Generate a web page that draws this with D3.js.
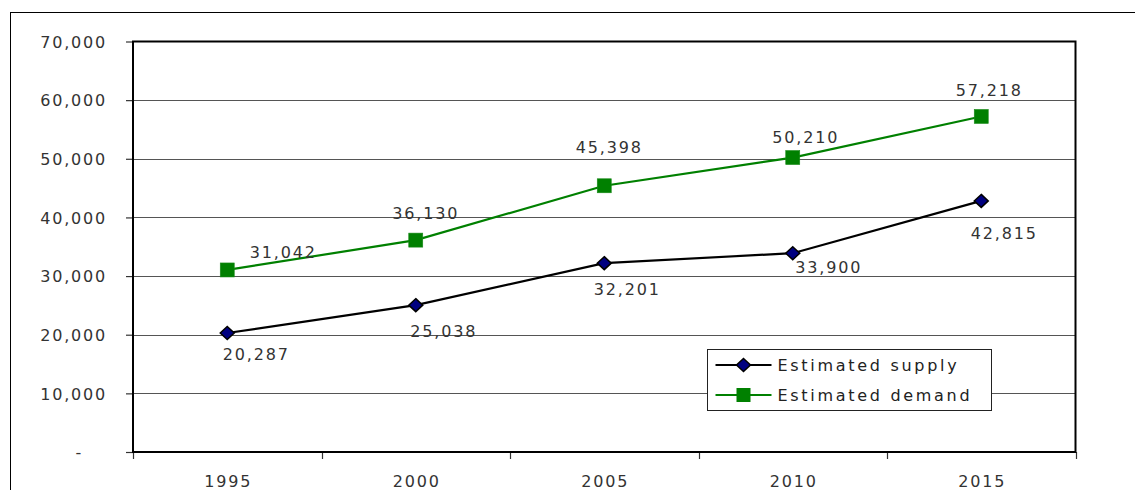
<!DOCTYPE html>
<html>
<head>
<meta charset="utf-8">
<script src="https://cdn.jsdelivr.net/npm/d3@7/dist/d3.min.js"></script>
<style>
  html, body { margin: 0; padding: 0; background: #fff; }
  svg text { font-family: "DejaVu Sans", sans-serif; font-size: 16px; fill: #333; letter-spacing: 1.8px; }
  svg text.legend-label { letter-spacing: 2.7px; fill: #222; }
</style>
</head>
<body>
<svg id="chart" width="1135" height="490"></svg>
<script>
// Chart data
const years = ["1995", "2000", "2005", "2010", "2015"];
const supply = [20287, 25038, 32201, 33900, 42815];
const demand = [31042, 36130, 45398, 50210, 57218];
const yTicks = [0, 10000, 20000, 30000, 40000, 50000, 60000, 70000];
const seriesNames = ["Estimated supply", "Estimated demand"];

// Hand-placed data label nudges (dx, dy) relative to each point
const supplyLabelNudge = [[28, 27], [27, 32], [22, 32], [35, 20], [22, 38]];
const demandLabelNudge = [[55, -12], [9, -21], [4, -33], [12, -15], [7, -20]];

const svg = d3.select("#chart");
const plot = { left: 133, top: 41.5, right: 1075.5, bottom: 452 };

const x = d3.scaleBand().domain(years).range([plot.left, plot.right]);
const y = d3.scaleLinear().domain([0, 70000]).range([plot.bottom, plot.top]);
const fmt = d3.format(",");

// Outer chart frame (runs off the right and bottom edges)
svg.append("rect")
  .attr("x", 10.5).attr("y", 12.5).attr("width", 1300).attr("height", 600)
  .attr("fill", "none").attr("stroke", "#000").attr("stroke-width", 1);

// Horizontal gridlines
svg.append("g").selectAll("line")
  .data(yTicks.filter(d => d > 0 && d < 70000))
  .join("line")
  .attr("x1", plot.left).attr("x2", plot.right)
  .attr("y1", d => Math.round(y(d)) + 0.5).attr("y2", d => Math.round(y(d)) + 0.5)
  .attr("stroke", "#555").attr("stroke-width", 1.2);

// Y axis with ticks and labels
const yAxis = d3.axisLeft(y).tickValues(yTicks).tickSize(7).tickPadding(19)
  .tickFormat(d => d === 0 ? "-" : fmt(d));
const yg = svg.append("g").attr("transform", `translate(${plot.left},0)`).call(yAxis);
yg.select(".domain").remove();
yg.selectAll(".tick line").attr("stroke", "#333").attr("stroke-width", 1.2);
yg.selectAll(".tick text").attr("font-size", null).attr("font-family", null).attr("fill", null)
  .attr("dy", "0.36em");
yg.selectAll(".tick text").filter(d => d === 0).attr("x", -50);

// X axis: ticks fall on category boundaries
const boundaries = years.map(d => x(d)).concat([plot.right]);
svg.append("g").selectAll("line").data(boundaries).join("line")
  .attr("x1", d => Math.round(d) + 0.5).attr("x2", d => Math.round(d) + 0.5)
  .attr("y1", plot.bottom).attr("y2", plot.bottom + 7)
  .attr("stroke", "#333").attr("stroke-width", 1.2);
svg.append("g").selectAll("text").data(years).join("text")
  .attr("x", d => x(d) + x.bandwidth() / 2 + 1)
  .attr("y", 487)
  .attr("text-anchor", "middle")
  .text(d => d);

// Plot area border
svg.append("rect")
  .attr("x", plot.left).attr("y", plot.top)
  .attr("width", plot.right - plot.left).attr("height", plot.bottom - plot.top)
  .attr("fill", "none").attr("stroke", "#000").attr("stroke-width", 2);

const cx = d => x(d) + x.bandwidth() / 2;
const line = d3.line().x((d, i) => cx(years[i])).y(d => y(d));
const diamondPath = "M0,-6.5L7,0L0,6.5L-7,0Z";

// Demand series
svg.append("path").datum(demand).attr("d", line)
  .attr("fill", "none").attr("stroke", "#008000").attr("stroke-width", 2.2);
svg.append("g").selectAll("rect").data(demand).join("rect")
  .attr("x", (d, i) => cx(years[i]) - 7).attr("y", d => y(d) - 7)
  .attr("width", 14).attr("height", 14)
  .attr("fill", "#008000").attr("stroke", "#1a8a1a").attr("stroke-width", 0.6);

// Supply series
svg.append("path").datum(supply).attr("d", line)
  .attr("fill", "none").attr("stroke", "#000").attr("stroke-width", 2.2);
svg.append("g").selectAll("path").data(supply).join("path")
  .attr("d", diamondPath)
  .attr("transform", (d, i) => `translate(${cx(years[i])},${y(d)})`)
  .attr("fill", "#000080").attr("stroke", "#000").attr("stroke-width", 1.5);

// Data labels
svg.append("g").selectAll("text").data(demand).join("text")
  .attr("x", (d, i) => cx(years[i]) + demandLabelNudge[i][0] + 1)
  .attr("y", (d, i) => y(d) + demandLabelNudge[i][1])
  .attr("text-anchor", "middle")
  .text(d => fmt(d));
svg.append("g").selectAll("text").data(supply).join("text")
  .attr("x", (d, i) => cx(years[i]) + supplyLabelNudge[i][0] + 1)
  .attr("y", (d, i) => y(d) + supplyLabelNudge[i][1])
  .attr("text-anchor", "middle")
  .text(d => fmt(d));

// Legend
const legend = svg.append("g").attr("transform", "translate(707.5,349.5)");
legend.append("rect").attr("width", 284).attr("height", 61)
  .attr("fill", "#fff").attr("stroke", "#222").attr("stroke-width", 1);
const rows = legend.selectAll("g").data(seriesNames).join("g")
  .attr("transform", (d, i) => `translate(0,${15.5 + i * 30})`);
rows.append("line").attr("x1", 8).attr("x2", 64).attr("y1", 0).attr("y2", 0)
  .attr("stroke", (d, i) => i === 0 ? "#000" : "#008000").attr("stroke-width", 2.2);
rows.filter((d, i) => i === 0).append("path")
  .attr("d", diamondPath)
  .attr("transform", "translate(36,0)")
  .attr("fill", "#000080").attr("stroke", "#000").attr("stroke-width", 1.5);
rows.filter((d, i) => i === 1).append("rect")
  .attr("x", 29).attr("y", -7).attr("width", 14).attr("height", 14)
  .attr("fill", "#008000");
rows.append("text").attr("class", "legend-label")
  .attr("x", 70).attr("y", 0).attr("dy", "0.36em").text(d => d);
</script>
</body>
</html>
